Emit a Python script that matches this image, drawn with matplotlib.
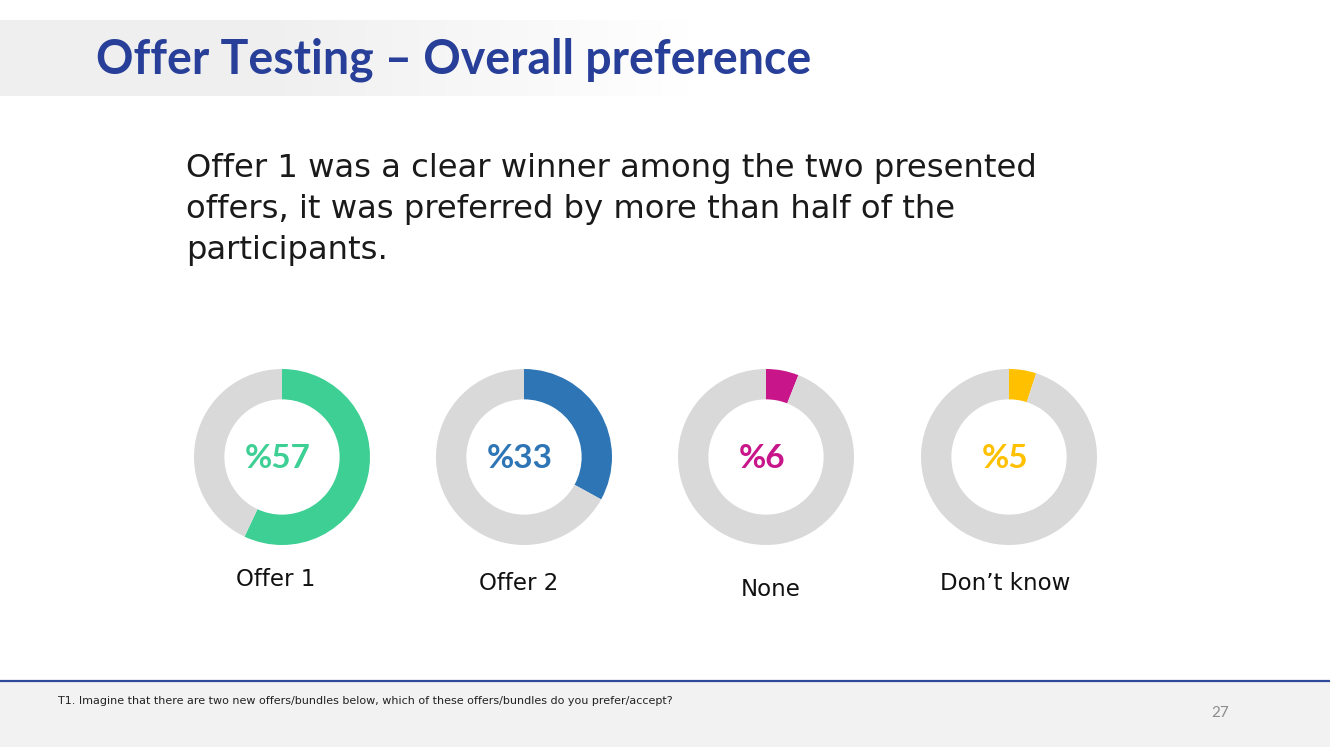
import matplotlib
matplotlib.use("Agg")
import matplotlib.pyplot as plt
import numpy as np

W, H = 1330, 747
categories = ["Offer 1", "Offer 2", "None", "Don\u2019t know"]
values = [57, 33, 6, 5]
value_labels = ["%57", "%33", "%6", "%5"]
colors = ["#3ECF94", "#2E75B6", "#C8168A", "#FFC000"]

title = "Offer Testing \u2013 Overall preference"
subtitle = ["Offer 1 was a clear winner among the two presented",
            "offers, it was preferred by more than half of the",
            "participants."]
footnote = "T1. Imagine that there are two new offers/bundles below, which of these offers/bundles do you prefer/accept?"
page = "27"

fig = plt.figure(figsize=(W / 100, H / 100), dpi=100)
fig.patch.set_facecolor("white")

def fx(x): return x / W
def fy(y): return 1 - y / H

bg = fig.add_axes([0, 0, 1, 1])
bg.set_xlim(0, W); bg.set_ylim(H, 0); bg.axis("off")

# title band gradient
xs = np.linspace(0, 700, 256)
alpha = np.clip((690 - xs) / 690, 0, 1)
img = np.ones((1, 256, 4))
img[0, :, :3] = 0.94
img[0, :, 3] = np.clip(alpha * 1.6, 0, 1)
bg.imshow(img, extent=[0, 700, 96, 20], aspect="auto", zorder=0)

# footer band
bg.add_patch(plt.Rectangle((0, 681), W, H - 681, color="#F2F2F2", zorder=0))
bg.plot([0, W], [681, 681], color="#2E4A9B", lw=1.6, zorder=1)
bg.set_xlim(0, W); bg.set_ylim(H, 0)

bg.text(96, 60, title, fontsize=33.5, fontweight="bold", color="#273F98",
        family="Lato", va="center", ha="left")

for i, line in enumerate(subtitle):
    bg.text(186, 169 + i * 40.5, line, fontsize=23.2, color="#1A1A1A",
            family="DejaVu Sans", va="center", ha="left")

bg.text(58, 701, footnote, fontsize=8, color="#222222", family="DejaVu Sans",
        va="center", ha="left")
bg.text(1220, 713, page, fontsize=11, color="#8C8C8C", family="Lato",
        va="center", ha="center")

centers = [(282, 457), (524, 457), (766, 457), (1009, 457)]
label_pos = [(276, 579), (519, 583), (771, 590), (1005, 583)]
R = 88
for i, (cx, cy) in enumerate(centers):
    ax = fig.add_axes([fx(cx - R), fy(cy + R), 2 * R / W, 2 * R / H])
    ax.pie([values[i], 100 - values[i]], colors=[colors[i], "#D9D9D9"],
           startangle=90, counterclock=False, radius=1,
           wedgeprops=dict(width=0.345, edgecolor="none"))
    ax.set_xlim(-1, 1); ax.set_ylim(-1, 1)
    ax.set_aspect("auto")
    ax.axis("off")
    ax.text(-0.05, -0.02, value_labels[i], fontsize=24, fontweight="bold",
            color=colors[i], family="Lato", ha="center", va="center")
    lx, ly = label_pos[i]
    bg.text(lx, ly, categories[i], fontsize=16.5, color="#111111",
            family="DejaVu Sans", ha="center", va="center")

fig.savefig("out.png", dpi=100, facecolor="white")
